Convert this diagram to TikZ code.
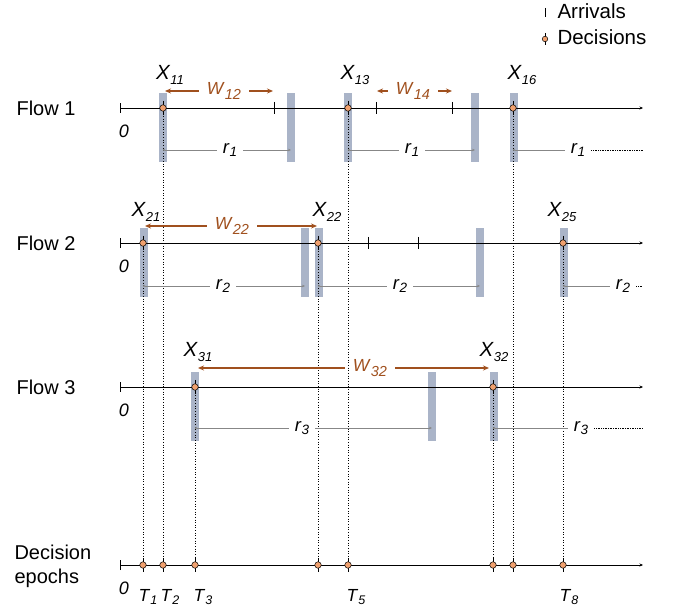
\documentclass[tikz,border=0pt]{standalone}
\usepackage{fontspec}
\setmainfont{Liberation Sans}
\usetikzlibrary{arrows.meta,positioning,backgrounds}
\definecolor{barc}{RGB}{170,180,200}
\definecolor{decc}{RGB}{240,160,110}
\definecolor{wc}{RGB}{160,80,30}
\definecolor{rc}{RGB}{135,135,135}
% italic letter with an italic index
\newcommand{\ix}[4][0.4ex]{\textit{#2}\raisebox{-#1}{\fontsize{#4}{#4}\selectfont\textit{#3}}}

\begin{document}
\begin{tikzpicture}[x=1pt,y=-1pt,
    flowlab/.style={anchor=west,align=left,font=\fontsize{20}{24}\selectfont},
    zerolab/.style={font=\fontsize{18}{18}\selectfont\itshape},
    axis/.style={line width=0.8pt,{Bar[width=10pt,line width=0.5pt]}-{Stealth[length=3.5pt,width=3pt]}},
    tick/.style={line width=0.7pt},
    bar/.style={rectangle,fill=barc,minimum width=8.5pt,minimum height=69pt,inner sep=0pt,anchor=north},
    dec/.style={circle,draw=black,line width=0.5pt,fill=decc,minimum size=6.5pt,inner sep=0pt},
    xlab/.style={font=\fontsize{20.5}{20.5}\selectfont},
    wlab/.style={text=wc,font=\fontsize{17.5}{17.5}\selectfont,inner sep=8pt},
    warr/.style={draw=wc,line width=1.1pt,-{Stealth[length=6pt,width=5pt]}},
    rlab/.style={font=\fontsize{18.5}{18.5}\selectfont,inner sep=6pt},
    rline/.style={draw=rc,line width=0.6pt},
    vline/.style={dotted,line width=0.65pt},
    tlab/.style={font=\fontsize{17.5}{17.5}\selectfont},
  ]
  \useasboundingbox (0,0) rectangle (675,612);

  % row labels
  \node[flowlab] (f1) at (13,108) {Flow 1};
  \node[flowlab] (f2) at (13,243) {Flow 2};
  \node[flowlab] (f3) at (13,387) {Flow 3};
  \node[flowlab] (fd) at (11,566) {Decision\\epochs};

  % time axes
  \foreach \i/\y in {1/108,2/243,3/387,0/565} {
    \coordinate (o\i) at (120,\y);
    \coordinate (e\i) at (643,\y);
    \draw[axis] (o\i) -- (e\i);
    \node[zerolab] (z\i) at (124,\y+23) {0};
  }

  % arrivals
  \foreach \n/\x/\y in {11/274/108,12/376/108,13/452/108,21/368/243,22/418/243} {
    \coordinate (a\n) at (\x,\y);
    \draw[tick] (\x,\y-6) -- (\x,\y+6);
  }

  % decisions
  \foreach \n/\x/\y in {11/163/108,13/348/108,16/513/108,21/143/243,22/318/243,25/563/243,
                        31/195/387,32/493/387,t1/143/565,t2/163/565,t3/195/565,t4/318/565,
                        t5/348/565,t6/493/565,t7/513/565,t8/563/565} {
    \draw[line width=0.6pt] (\x,\y-7) -- (\x,\y+7);
    \node[dec] (x\n) at (\x,\y) {};
  }

  \begin{scope}[on background layer]
    \foreach \x in {163,291,348,475,514} \node[bar] at (\x,93) {};
    \foreach \x in {144,305,319,480,564} \node[bar] at (\x,228) {};
    \foreach \x in {195,432,494} \node[bar] at (\x,372) {};
    \foreach \a/\b in {21/t1,11/t2,31/t3,22/t4,13/t5,32/t6,16/t7,25/t8}
      \draw[vline] (x\a.center) -- (x\b.center);
  \end{scope}

  % decision labels
  \node[xlab] (lx11) at (170,75) {\ix{X}{11}{13}};
  \node[xlab] (lx13) at (355,75) {\ix{X}{13}{13}};
  \node[xlab] (lx16) at (522,75) {\ix{X}{16}{13}};
  \node[xlab] (lx21) at (146,212) {\ix{X}{21}{13}};
  \node[xlab] (lx22) at (327,212) {\ix{X}{22}{13}};
  \node[xlab] (lx25) at (562,212) {\ix{X}{25}{13}};
  \node[xlab] (lx31) at (198,352) {\ix{X}{31}{13}};
  \node[xlab] (lx32) at (494,352) {\ix{X}{32}{13}};

  % waiting times
  \foreach \n/\l/\a/\b/\y in {12/224/165/273/91, 14/413/377/452/91, 22/232/145/317/226, 32/370/198/489/368} {
    \coordinate (wl\n) at (\a,\y);
    \coordinate (wr\n) at (\b,\y);
    \node[wlab] (w\n) at (\l,\y) {\ix[0.6ex]{W}{\n}{14.5}};
    \draw[warr] (w\n) -- (wl\n);
    \draw[warr] (w\n) -- (wr\n);
  }

  % service intervals
  \foreach \s/\a/\l/\b/\y in {1/163/230/291/150, 1/348/412/475/150, 2/143/223/305/286,
                              2/318/400/480/286, 3/195/302/432/428} {
    \coordinate (rs) at (\a,\y);
    \coordinate (re) at (\b,\y);
    \node[rlab] (rl) at (\l,\y) {\ix[0.35ex]{r}{\s}{13.5}};
    \draw[rline,-{Circle[length=2pt]}] (rl) -- (rs);
    \draw[rline,-{Stealth[length=3pt,width=2.5pt]}] (rl) -- (re);
  }
  \foreach \s/\a/\l/\y in {1/513/578/150, 2/563/623/286, 3/493/581/428} {
    \coordinate (rs) at (\a,\y);
    \coordinate (re) at (643,\y);
    \node[rlab] (rl) at (\l,\y) {\ix[0.35ex]{r}{\s}{13.5}};
    \draw[rline,-{Circle[length=2pt]}] (rl) -- (rs);
    \draw[densely dotted,line width=0.7pt] (rl) -- (re);
  }

  % epoch labels
  \node[tlab] (lt1) at (148,597) {\ix{T}{1}{12.5}};
  \node[tlab] (lt2) at (170,597) {\ix{T}{2}{12.5}};
  \node[tlab] (lt3) at (203,597) {\ix{T}{3}{12.5}};
  \node[tlab] (lt5) at (356,597) {\ix{T}{5}{12.5}};
  \node[tlab] (lt8) at (569,597) {\ix{T}{8}{12.5}};

  % legend
  \draw[tick] (545,8) -- (545,17);
  \node[anchor=west,font=\fontsize{20.5}{20.5}\selectfont] (lgar) at (554,11) {Arrivals};
  \draw[line width=0.5pt] (545,33) -- (545,45);
  \node[dec,minimum size=5.5pt] (lgdec) at (545,39) {};
  \node[anchor=west,font=\fontsize{20.5}{20.5}\selectfont] (lgdt) at (554,37) {Decisions};
\end{tikzpicture}
\end{document}
